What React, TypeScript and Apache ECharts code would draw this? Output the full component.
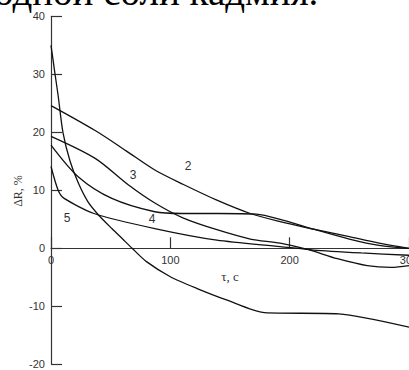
import React, { useEffect, useRef } from "react";
import * as echarts from "echarts";

const xTicks = [0, 100, 200, 300];
const yTicks = [-20, -10, 0, 10, 20, 30, 40];

const curve1: [number, number][] = [
  [0, 35], [3.4, 30], [6, 26.3], [10, 20], [16, 15], [23, 11.2], [31, 8], [40, 5.7],
  [51, 3.4], [60, 1.6], [68, 0], [80, -2.3], [100, -4.9], [122, -6.9], [147, -8.9],
  [179, -11.1], [241, -11.3], [300, -13.6],
];
const curve2: [number, number][] = [
  [0, 24.6], [37, 20.3], [63, 16.8], [87, 13.5], [111, 11.0], [139, 8.3], [167, 6.0],
  [192, 4.6], [220, 3.3], [250, 2.0], [275, 0.9], [300, 0],
];
const curve3: [number, number][] = [
  [0, 19.3], [37, 15.5], [65, 10.9], [87, 7.8], [111, 5.2], [139, 3.2], [167, 1.6],
  [192, 0.9], [215, -0.2], [240, -1.8], [265, -3.0], [285, -3.3], [300, -3.0],
];
const curve4: [number, number][] = [
  [0, 17.8], [23, 12.3], [51, 8.6], [87, 6.3], [110, 6.0], [140, 6.0], [172, 5.9],
  [195, 4.8], [220, 3.3], [250, 1.6], [275, 0.5], [300, 0],
];
const curve5: [number, number][] = [
  [0, 14.1], [6, 10], [11, 8.6], [36, 6.0], [87, 3.4], [139, 1.4], [192, 0.3],
  [220, -0.3], [260, -0.8], [300, -1.2],
];

const curveLabels = [
  { text: "2", x: 188, y: 166 },
  { text: "3", x: 133, y: 175 },
  { text: "4", x: 152, y: 219 },
  { text: "5", x: 67, y: 218 },
];

export default function App() {
  const ref = useRef<HTMLDivElement>(null);
  useEffect(() => {
    document.body.style.margin = "0";
    const chart = echarts.init(ref.current!, null, { renderer: "svg" });
    const lineStyle = { color: "#111", width: 1.3 };
    const mk = (data: [number, number][], smooth: number) => ({
      type: "line",
      data,
      smooth,
      showSymbol: false,
      symbol: "none",
      lineStyle,
      silent: true,
    });
    chart.setOption({
      animation: false,
      backgroundColor: "#fff",
      grid: { left: 51, right: 0, top: 16.3, bottom: 5.7, containLabel: false, outerBoundsMode: "none" },
      xAxis: {
        type: "value",
        min: xTicks[0],
        max: xTicks[xTicks.length - 1],
        interval: 100,
        position: "bottom",
        offset: -116,
        axisLine: { onZero: false, lineStyle: { color: "#333", width: 1.2 } },
        axisTick: { show: true, inside: true, length: 11, lineStyle: { color: "#333", width: 1.2 } },
        axisLabel: { color: "#333", fontFamily: "Liberation Sans", fontSize: 11, margin: 6, showMaxLabel: true, showMinLabel: true, hideOverlap: false },
        splitLine: { show: false },
      },
      yAxis: {
        type: "value",
        min: yTicks[0],
        max: yTicks[yTicks.length - 1],
        interval: 10,
        axisLine: { show: true, onZero: false, lineStyle: { color: "#333", width: 1.2 } },
        axisTick: { show: true, inside: true, length: 11, lineStyle: { color: "#333", width: 1.2 } },
        axisLabel: { color: "#333", fontFamily: "Liberation Sans", fontSize: 11, margin: 6 },
        splitLine: { show: false },
      },
      series: [
        mk(curve1, 0.25),
        mk(curve2, 0.3),
        mk(curve3, 0.3),
        mk(curve4, 0.3),
        mk(curve5, 0.25),
      ],
      graphic: [
        {
          type: "text",
          x: -6,
          y: -28,
          style: {
            text: "одной соли кадмия.",
            font: "39px 'Liberation Serif'",
            fill: "#000",
            align: "left",
            verticalAlign: "top",
          },
        },
        {
          type: "text",
          x: 18,
          y: 191,
          rotation: Math.PI / 2,
          style: {
            text: "ΔR, %",
            font: "12px 'Liberation Serif'",
            fill: "#333",
            align: "center",
            verticalAlign: "middle",
          },
        },
        {
          type: "text",
          x: 230,
          y: 276,
          style: {
            text: "τ, c",
            font: "13px 'Liberation Serif'",
            fill: "#333",
            align: "center",
            verticalAlign: "middle",
          },
        },
        ...curveLabels.map((l) => ({
          type: "text",
          x: l.x,
          y: l.y,
          style: {
            text: l.text,
            font: "12px 'Liberation Sans'",
            fill: "#333",
            align: "center",
            verticalAlign: "middle",
          },
        })),
      ],
    });
    return () => chart.dispose();
  }, []);
  return <div ref={ref} style={{ width: 409, height: 370 }} />;
}
